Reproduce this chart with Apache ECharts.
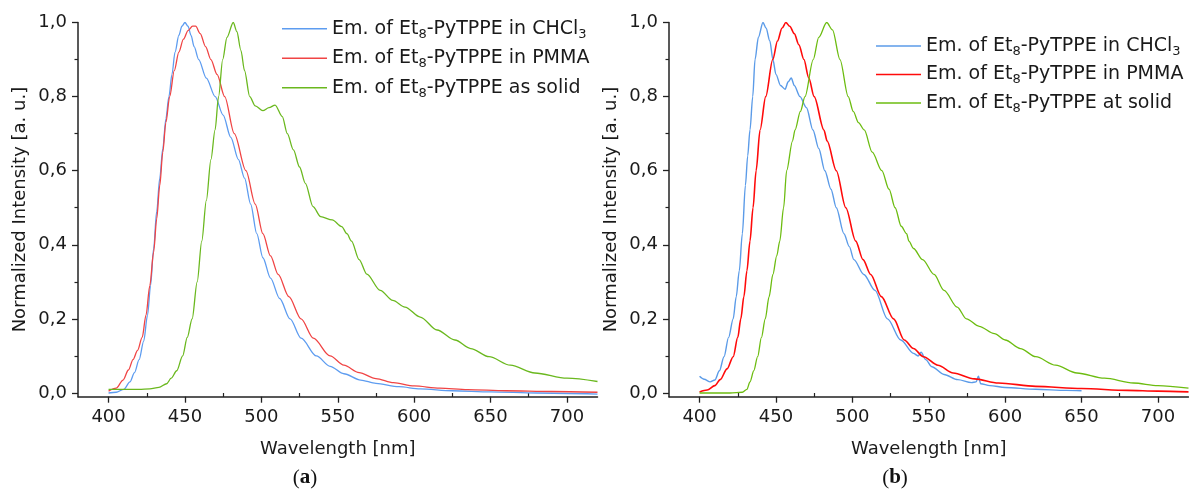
<!DOCTYPE html>
<html>
<head>
<meta charset="utf-8">
<script src="https://cdn.jsdelivr.net/npm/echarts@6/dist/echarts.min.js"></script>
<style>
html,body{margin:0;padding:0;background:#fff;}
#chart{width:1189px;height:493px;}
</style>
</head>
<body>
<div id="chart"></div>
<script>
// ---- tick labels ----
const xTicks = [400, 450, 500, 550, 600, 650, 700];
const xMinor = [425, 475, 525, 575, 625, 675];
const yTicks = [0, 0.2, 0.4, 0.6, 0.8, 1.0];
const yMinor = [0.1, 0.3, 0.5, 0.7, 0.9];

// ---- series names ----
const nameCHCl3 = 'Em. of Et8-PyTPPE in CHCl3';
const namePMMA = 'Em. of Et8-PyTPPE in PMMA';
const nameSolidA = 'Em. of Et8-PyTPPE as solid';
const nameSolidB = 'Em. of Et8-PyTPPE at solid';

// ---- panel (a) data: [wavelength nm, normalized intensity] ----
const aCHCl3 = [[400,0.0],[405,0.002],[410,0.01],[414,0.03],[417,0.055],[420,0.09],[423,0.14],[425.5,0.21],[427.5,0.29],[429.5,0.39],[431.5,0.49],[433.5,0.58],[435.5,0.66],[437.5,0.74],[439.5,0.8],[441.5,0.86],[443.5,0.92],[446,0.965],[448,0.99],[450,1.0],[452,0.99],[454,0.965],[456,0.935],[459,0.9],[464,0.85],[469.8,0.8],[475,0.75],[480,0.69],[485,0.63],[489,0.58],[493,0.51],[497,0.43],[501,0.365],[506,0.31],[512,0.255],[518.8,0.2],[526,0.148],[536,0.1],[545,0.072],[554,0.052],[565,0.035],[575,0.026],[590,0.017],[604,0.011],[625,0.006],[650,0.003],[680,0.0],[720,-0.003]];
const aPMMA = [[400,0.005],[405,0.013],[409.5,0.035],[413,0.062],[416,0.09],[419,0.115],[422,0.15],[424.5,0.21],[427,0.29],[429.5,0.38],[431.5,0.47],[433.5,0.56],[435.5,0.65],[437.5,0.73],[440,0.8],[443,0.87],[446,0.92],[449,0.955],[452,0.978],[455,0.99],[457,0.99],[460,0.97],[463.5,0.935],[467,0.9],[471,0.86],[476,0.8],[482.3,0.7],[489.9,0.6],[496,0.51],[501,0.43],[506,0.37],[511,0.32],[518,0.26],[526,0.2],[534,0.148],[545,0.1],[554,0.075],[564,0.055],[575,0.039],[586.5,0.028],[600,0.019],[616.7,0.013],[635,0.009],[660,0.006],[690,0.004],[720,0.002]];
const aSolid = [[400,0.01],[410,0.01],[420,0.01],[427,0.011],[433,0.015],[438,0.025],[441,0.04],[444.6,0.06],[448.5,0.1],[451.5,0.15],[454.7,0.2],[458,0.3],[461,0.41],[464,0.52],[467,0.63],[469.7,0.71],[472,0.8],[474.7,0.9],[477.5,0.96],[481.6,1.0],[484,0.975],[486.6,0.925],[489,0.87],[492.4,0.8],[496,0.775],[501,0.762],[505,0.77],[509,0.777],[513.7,0.746],[517,0.7],[521,0.656],[525,0.61],[528.8,0.566],[533.8,0.503],[538.8,0.476],[546.4,0.467],[552.6,0.449],[556,0.43],[559,0.41],[564,0.36],[569,0.321],[577.8,0.277],[586,0.25],[594,0.232],[604,0.205],[615,0.17],[626.7,0.143],[637,0.12],[649,0.098],[663,0.075],[679,0.054],[700,0.04],[720,0.031]];

// ---- panel (b) data ----
const bCHCl3 = [[400,0.045],[403,0.037],[407,0.03],[410,0.035],[413,0.06],[416,0.098],[419,0.15],[422,0.2],[424,0.26],[426,0.33],[428,0.43],[430,0.56],[431.5,0.64],[433,0.71],[434.8,0.8],[436.3,0.9],[438.5,0.96],[441.5,1.0],[443.5,0.985],[446,0.95],[448,0.9],[450,0.86],[453,0.83],[456,0.82],[458,0.84],[460,0.85],[462,0.83],[465.7,0.8],[470,0.77],[474.2,0.71],[478,0.66],[482,0.6],[486,0.55],[489.5,0.5],[494.5,0.43],[498,0.395],[501,0.36],[507.5,0.32],[514.8,0.277],[523,0.2],[531.7,0.143],[540,0.107],[543,0.1],[545,0.11],[548,0.09],[552,0.071],[560,0.05],[569,0.036],[578,0.028],[581,0.03],[582.5,0.045],[584,0.025],[590,0.02],[600,0.015],[620,0.01],[640,0.007],[650,0.006]];
const bPMMA = [[400,0.003],[405,0.008],[410,0.02],[413.5,0.036],[418,0.065],[422,0.098],[425,0.15],[427,0.2],[429,0.26],[431,0.33],[433,0.41],[435,0.5],[437,0.6],[439.6,0.71],[443.3,0.8],[447.9,0.9],[451,0.95],[454,0.985],[456.5,1.0],[459,0.99],[462,0.97],[465,0.94],[468.3,0.9],[471.5,0.85],[475,0.8],[481.4,0.71],[483.5,0.68],[489.5,0.6],[495.7,0.5],[502.2,0.41],[507,0.36],[512,0.32],[519,0.26],[527,0.2],[534,0.143],[540,0.12],[546.5,0.098],[556,0.075],[566,0.054],[580,0.038],[595.6,0.027],[620,0.018],[650,0.012],[680,0.007],[700,0.005],[720,0.003]];
const bSolid = [[400,0.0],[420,0.0],[428,0.002],[431,0.01],[433,0.03],[435.5,0.06],[438,0.098],[440.5,0.15],[443,0.2],[445.5,0.26],[448,0.32],[450.5,0.37],[452.5,0.41],[455,0.5],[457,0.6],[460.8,0.68],[462.5,0.71],[466,0.76],[469,0.8],[474.4,0.9],[478,0.96],[483.2,1.0],[487,0.98],[491.9,0.9],[497.3,0.8],[500.6,0.76],[504,0.73],[507.8,0.71],[513,0.65],[519.3,0.6],[524,0.55],[528,0.5],[532,0.45],[535.5,0.43],[537,0.41],[540,0.39],[546,0.36],[553.5,0.32],[560,0.277],[568.6,0.232],[574.7,0.2],[583,0.18],[593,0.16],[600,0.143],[610,0.12],[620,0.098],[633,0.075],[647,0.054],[665,0.04],[684,0.027],[700,0.02],[720,0.013]];

const FONT = 'DejaVu Sans';
const TXT = '#1a1a1a';
const AX = '#222';

const colA = {b: '#5d9cf0', r: '#f04444', g: '#6ab81e'};
const colB = {b: '#5b9be8', r: '#ff0a0a', g: '#6cbc10'};

function fmtY(v) { return v.toFixed(1).replace('.', ','); }

function xAxes(grid) {
  return [
    { type: 'value', gridIndex: grid, position: 'bottom', min: 380, max: 720,
      name: 'Wavelength [nm]', nameLocation: 'middle', nameGap: 44,
      nameTextStyle: {fontFamily: FONT, fontSize: 18, color: TXT},
      axisLine: {show: true, onZero: false, lineStyle: {color: AX, width: 1.5}},
      axisTick: {show: true, customValues: xTicks, length: 6, lineStyle: {color: AX, width: 1.3}},
      axisLabel: {show: true, customValues: xTicks, margin: 12, fontFamily: FONT, fontSize: 18, color: TXT},
      splitLine: {show: false} },
    { type: 'value', gridIndex: grid, position: 'bottom', min: 380, max: 720,
      axisLine: {show: false},
      axisTick: {show: true, customValues: xMinor, length: 4, lineStyle: {color: AX, width: 1.2}},
      axisLabel: {show: false}, splitLine: {show: false} }
  ];
}
function yAxes(grid) {
  return [
    { type: 'value', gridIndex: grid, position: 'left', min: -0.01, max: 1.0,
      name: 'Normalized Intensity [a. u.]', nameLocation: 'middle', nameGap: 49,
      nameTextStyle: {fontFamily: FONT, fontSize: 18, color: TXT},
      axisLine: {show: true, onZero: false, lineStyle: {color: AX, width: 1.5}},
      axisTick: {show: true, customValues: yTicks, length: 6, lineStyle: {color: AX, width: 1.3}},
      axisLabel: {show: true, customValues: yTicks, margin: 11, formatter: fmtY, fontFamily: FONT, fontSize: 18, color: TXT},
      splitLine: {show: false} },
    { type: 'value', gridIndex: grid, position: 'left', min: -0.01, max: 1.0,
      axisLine: {show: false},
      axisTick: {show: true, customValues: yMinor, length: 3.5, lineStyle: {color: AX, width: 1.2}},
      axisLabel: {show: false}, splitLine: {show: false} }
  ];
}

function line(name, data, xi, yi, color, w) {
  return { type: 'line', name: name, data: data, xAxisIndex: xi, yAxisIndex: yi,
    symbol: 'none', smooth: 0.3, smoothMonotone: 'x',
    lineStyle: {color: color, width: w}, itemStyle: {color: color}, z: 3 };
}

function legendFmt(name) {
  return name.replace('Et8', 'Et{s|8}').replace('CHCl3', 'CHCl{s|3}');
}
const legendText = {
  fontFamily: FONT, fontSize: 19, color: TXT, lineHeight: 24,
  rich: { s: {fontFamily: FONT, fontSize: 13, lineHeight: 12, verticalAlign: 'bottom', color: TXT} }
};
function legItem(name, color) {
  return {name: name, icon: 'rect', itemStyle: {color: color, borderWidth: 0}};
}

const chart = echarts.init(document.getElementById('chart'), null, {renderer: 'canvas'});
chart.setOption({
  animation: false,
  backgroundColor: '#ffffff',
  grid: [
    {left: 78, top: 22.5, width: 519.5, height: 374.2},
    {left: 669, top: 22.5, width: 519.5, height: 374.2}
  ],
  xAxis: xAxes(0).concat(xAxes(1)),
  yAxis: yAxes(0).concat(yAxes(1)),
  legend: [
    { orient: 'vertical', left: 282, top: 16.7, padding: 0, itemGap: 5.5,
      itemWidth: 45, itemHeight: 1.6, selectedMode: false, formatter: legendFmt, textStyle: legendText,
      data: [legItem(nameCHCl3, colA.b), legItem(namePMMA, colA.r), legItem(nameSolidA, colA.g)] },
    { orient: 'vertical', left: 876, top: 34, padding: 0, itemGap: 4.5,
      itemWidth: 45, itemHeight: 1.6, selectedMode: false, formatter: legendFmt, textStyle: legendText,
      data: [legItem(nameCHCl3, colB.b), legItem(namePMMA, colB.r), legItem(nameSolidB, colB.g)] }
  ],
  graphic: [
    { type: 'text', x: 305, y: 478,
      style: { text: '({b|a})', textAlign: 'center', textVerticalAlign: 'middle',
        font: '21px "Liberation Serif"', fill: '#111',
        rich: { b: {fontFamily: 'Liberation Serif', fontSize: 21, fontWeight: 'bold', fill: '#111'} } } },
    { type: 'text', x: 895, y: 478,
      style: { text: '({b|b})', textAlign: 'center', textVerticalAlign: 'middle',
        font: '21px "Liberation Serif"', fill: '#111',
        rich: { b: {fontFamily: 'Liberation Serif', fontSize: 21, fontWeight: 'bold', fill: '#111'} } } }
  ],
  series: [
    line(nameCHCl3, aCHCl3, 0, 0, colA.b, 1.3),
    line(namePMMA, aPMMA, 0, 0, colA.r, 1.3),
    line(nameSolidA, aSolid, 0, 0, colA.g, 1.3),
    line(nameCHCl3, bCHCl3, 2, 2, colB.b, 1.4),
    line(namePMMA, bPMMA, 2, 2, colB.r, 1.6),
    line(nameSolidB, bSolid, 2, 2, colB.g, 1.3)
  ]
});
</script>
</body>
</html>
